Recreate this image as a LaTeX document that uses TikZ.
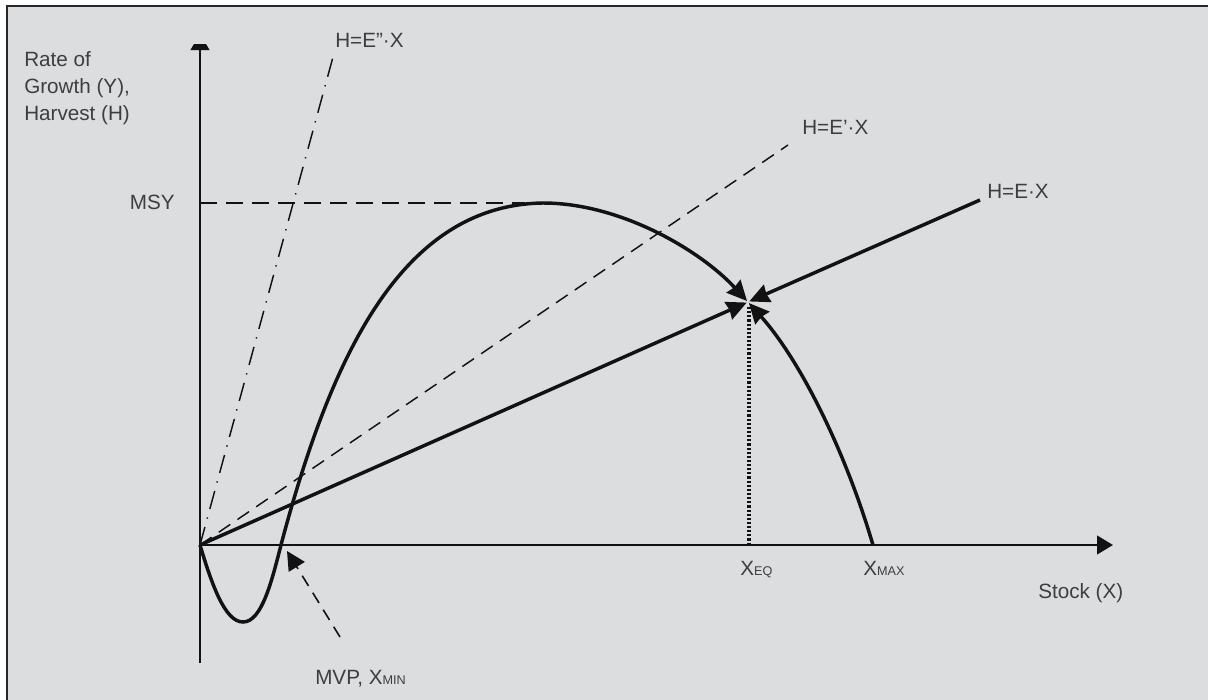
\documentclass[tikz,border=0pt]{standalone}
\usepackage{fontspec}
\setmainfont{Liberation Sans}
\usepackage{xcolor}
\usetikzlibrary{arrows.meta,positioning,calc}
\definecolor{panel}{RGB}{220,221,223}
\definecolor{frameink}{RGB}{40,40,40}
\definecolor{ink}{RGB}{18,18,18}
\definecolor{labelgray}{RGB}{62,62,62}
\tikzset{
  axis/.style={ink, line width=1.7pt, -{Triangle[length=12pt,width=14pt]}},
  growth/.style={ink, line width=2.6pt, -{Stealth[length=15pt,width=14pt,inset=1pt]}, shorten >=1pt},
  effort/.style={ink, line width=2.6pt, -{Stealth[length=15pt,width=14pt,inset=1pt]}, shorten >=1pt},
  effortdash/.style={ink, line width=1.1pt, dash pattern=on 10.5pt off 6.5pt},
  effortdot/.style={ink, line width=1.1pt, dash pattern=on 14pt off 6.5pt on 1pt off 6.5pt},
  msyline/.style={ink, line width=1.1pt, dash pattern=on 13pt off 6.5pt},
  eqline/.style={ink, line width=2.4pt, dash pattern=on 1.6pt off 1.5pt},
  mvparrow/.style={ink, line width=1.2pt, dash pattern=on 9pt off 6pt, -{Triangle[length=14pt,width=14pt]}},
  lbl/.style={text=labelgray, font=\fontsize{15.5}{20}\selectfont, inner sep=0pt}
}
\newcommand{\subcap}[1]{{\fontsize{9.5}{9.5}\selectfont #1}}

\begin{document}
\begin{tikzpicture}[x=0.75pt, y=-0.75pt]
    \useasboundingbox (0,0) rectangle (1208,700);
    \fill[white] (0,0) rectangle (1208,700);
    \fill[panel] (7,6) rectangle (1208,700);
    \draw[frameink, line width=1.7pt] (7,700) -- (7,6.3) -- (1208,6.3);
    % key points
    \coordinate (O) at (200,545);
    \coordinate (Q) at (748,302);
    \coordinate (xmin) at (281,545);
    \coordinate (xmax) at (873,545);
    \coordinate (xeq) at (749,545);
    \coordinate (xend) at (1113,545);
    \coordinate (ybot) at (200,663);
    \coordinate (ytop) at (200,34);
    \coordinate (msy) at (200,203);
    \coordinate (msyend) at (525,203);
    \coordinate (ehi) at (980,200);
    \coordinate (e1hi) at (788,145);
    \coordinate (e2hi) at (333,57);
    \coordinate (mvptail) at (340,637);
    \coordinate (mvphead) at (287,551);
    % axes
    \draw[axis] (ybot |- O) -- (xend);
    \draw[ink, line width=1.7pt] (ybot) -- (O);
    \begin{scope}
      \clip (0,44) rectangle (1208,700);
      \draw[axis] (O) -- (ytop);
    \end{scope}
    % harvest lines
    \draw[msyline] (msy) -- (msyend);
    \draw[effortdot] (O) -- (e2hi);
    \draw[effortdash] (O) -- (e1hi);
    \draw[effort] (O) -- (Q);
    \draw[effort] (ehi) -- (Q);
    \draw[eqline] ($(Q)+(1,5)$) -- (xeq);
    % growth curve
    \draw[growth] (O) .. controls (212,585) and (225,622) .. (243,622)
      .. controls (262,622) and (272,580) .. (xmin)
      .. controls (330,360) and (400,205) .. (543,203)
      .. controls (620,203) and (700,250) .. (Q);
    \draw[growth] (xmax) .. controls (845,450) and (800,360) .. (Q);
    \draw[mvparrow] (mvptail) -- (mvphead);
    % labels
    \node[lbl, anchor=north west, align=left] (lblY) at (24,51.5) {Rate of\\Growth (Y),\\Harvest (H)};
    \node[lbl, anchor=base east] (lblMSY) at (175,209) {MSY};
    \node[lbl, anchor=base west] (lblE2) at (335,47) {H=E”·X};
    \node[lbl, anchor=base west] (lblE1) at (802,134) {H=E’·X};
    \node[lbl, anchor=base west] (lblE) at (987,198) {H=E·X};
    \node[lbl, anchor=base west] (lblXeq) at (740,575) {X\subcap{EQ}};
    \node[lbl, anchor=base west] (lblXmax) at (863,575) {X\subcap{MAX}};
    \node[lbl, anchor=base west] (lblStock) at (1038,598) {Stock (X)};
    \node[lbl, anchor=base west] (lblMVP) at (315,684) {MVP, X\subcap{MIN}};
  \end{tikzpicture}
\end{document}
